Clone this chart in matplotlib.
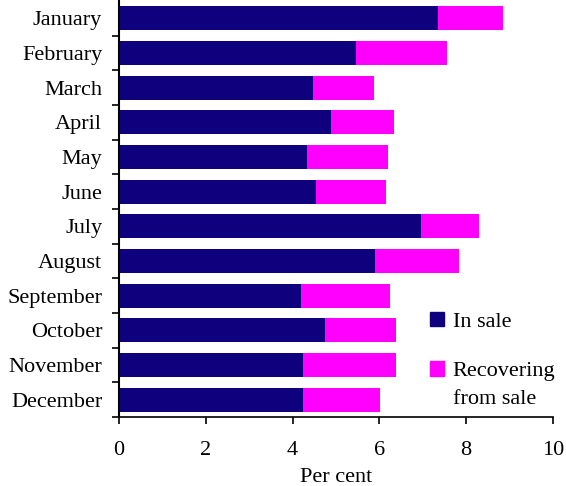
import numpy as np
import matplotlib.pyplot as plt
from matplotlib.patches import Patch, Rectangle
from matplotlib.legend_handler import HandlerPatch

months = ['January', 'February', 'March', 'April', 'May', 'June', 'July',
          'August', 'September', 'October', 'November', 'December']
in_sale = [7.36, 5.46, 4.47, 4.89, 4.33, 4.54, 6.95, 5.89, 4.20, 4.75, 4.24, 4.24]
total = [8.85, 7.57, 5.87, 6.33, 6.19, 6.15, 8.30, 7.84, 6.24, 6.38, 6.38, 6.01]
recovering = [t - s for t, s in zip(total, in_sale)]

navy = '#0f007d'
pink = '#ff00ff'

plt.rcParams['font.family'] = ['Liberation Serif', 'DejaVu Serif']
plt.rcParams['font.size'] = 16

fig = plt.figure(figsize=(5.66, 4.86), dpi=100)
ax = fig.add_axes([0.210, 0.142, 0.767, 0.856])

y = np.arange(len(months))
ax.barh(y, in_sale, height=0.7, color=navy)
ax.barh(y, recovering, left=in_sale, height=0.7, color=pink)

ax.set_ylim(11.5, -0.5)
ax.set_xlim(0, 10)
ax.set_yticks(y)
ax.set_yticklabels(months)
ax.set_yticks(np.arange(0.5, 12, 1), minor=True)
ax.tick_params(axis='y', which='major', length=0, pad=12)
ax.tick_params(axis='y', which='minor', length=5, width=1.2)
ax.set_xticks(np.arange(0, 11, 2))
ax.tick_params(axis='x', length=5, width=1.2, pad=12)
ax.set_xlabel('Per cent', labelpad=6)

ax.spines['top'].set_visible(False)
ax.spines['right'].set_visible(False)
ax.spines['left'].set_linewidth(1.5)
ax.spines['bottom'].set_linewidth(1.2)


# put the square next to the first line of a two-line label
def top_square(legend, orig_handle, xdescent, ydescent, width, height, fontsize):
    return Rectangle((-xdescent, -ydescent + 0.72 * fontsize), width, height)


h1 = Patch(color=navy)
h2 = Patch(color=pink)
leg = ax.legend([h1, h2], ['In sale', 'Recovering\nfrom sale'],
                loc='upper left', bbox_to_anchor=(0.69, 0.28), frameon=False,
                handlelength=0.65, handleheight=0.65, handletextpad=0.4,
                labelspacing=1.35, borderpad=0, fontsize=16,
                handler_map={h2: HandlerPatch(patch_func=top_square)})
for t in leg.get_texts():
    t.set_linespacing(1.65)

fig.savefig('out.png', dpi=100)
